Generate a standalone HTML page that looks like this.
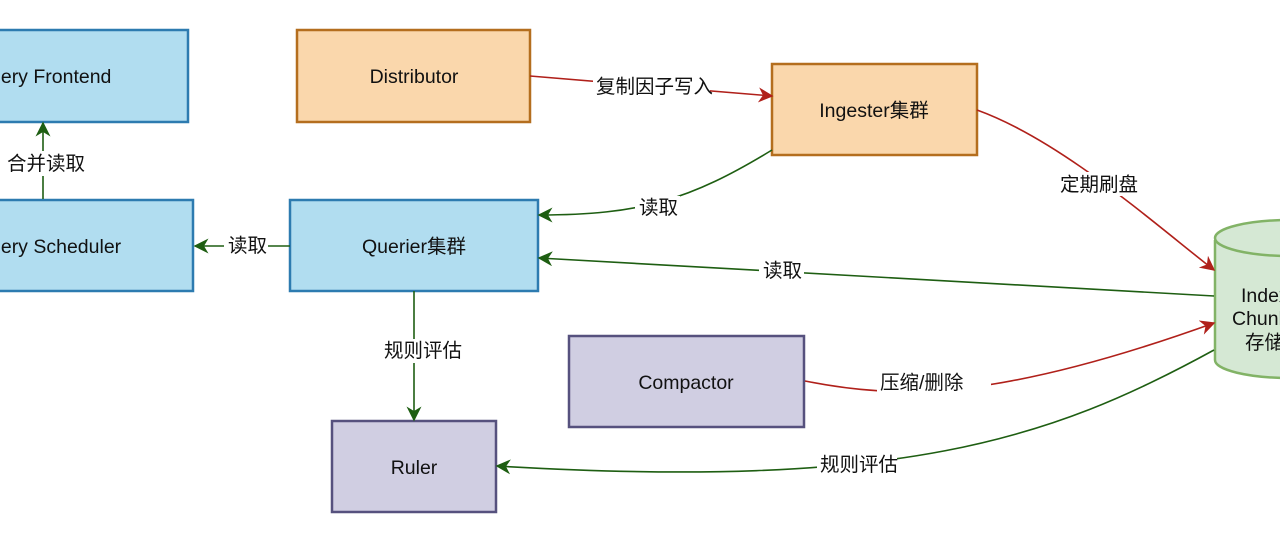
<!DOCTYPE html>
<html><head><meta charset="utf-8"><style>
html,body{margin:0;padding:0;background:#fff;width:1280px;height:545px;overflow:hidden}
svg text{font-family:"Liberation Sans","Noto Sans CJK SC",sans-serif;font-size:19.5px;fill:#111}
</style></head><body>
<svg width="1280" height="545" viewBox="0 0 1280 545" xmlns="http://www.w3.org/2000/svg">
<defs>
<marker id="r" viewBox="0 0 10 10" refX="9" refY="5" markerWidth="15" markerHeight="15" orient="auto" markerUnits="userSpaceOnUse"><path d="M0,0 L10,5 L0,10 L3,5z" fill="#b0201a"/></marker>
<marker id="g2" viewBox="0 0 10 10" refX="9" refY="5" markerWidth="15" markerHeight="15" orient="auto" markerUnits="userSpaceOnUse"><path d="M0,0 L10,5 L0,10 L3,5z" fill="#1e5e12"/></marker>
</defs>
<g stroke-width="2.5">
<rect x="-20" y="30" width="208" height="92" fill="#b1ddf0" stroke="#2d7bb0"/>
<rect x="-20" y="200" width="213" height="91" fill="#b1ddf0" stroke="#2d7bb0"/>
<rect x="297" y="30" width="233" height="92" fill="#fad7ac" stroke="#b46e1e"/>
<rect x="772" y="64" width="205" height="91" fill="#fad7ac" stroke="#b46e1e"/>
<rect x="290" y="200" width="248" height="91" fill="#b1ddf0" stroke="#2d7bb0"/>
<rect x="569" y="336" width="235" height="91" fill="#d0cee2" stroke="#56517e"/>
<rect x="332" y="421" width="164" height="91" fill="#d0cee2" stroke="#56517e"/>
<path d="M1215,240 L1215,360 A75,18 0 0 0 1365,360 L1365,240" fill="#d5e8d4" stroke="#82b366"/>
<ellipse cx="1290" cy="238" rx="75" ry="18" fill="#d5e8d4" stroke="#82b366"/>
</g>
<g fill="none" stroke-width="1.6">
<path d="M43,199 L43,123" stroke="#1e5e12" marker-end="url(#g2)"/>
<path d="M290,246 L195,246" stroke="#1e5e12" marker-end="url(#g2)"/>
<path d="M414,291 L414,420" stroke="#1e5e12" marker-end="url(#g2)"/>
<path d="M530,76 L772,96" stroke="#b0201a" marker-end="url(#r)"/>
<path d="M772,150 C690,200 640,215 539,215" stroke="#1e5e12" marker-end="url(#g2)"/>
<path d="M977,110 C1060,140 1150,220 1214,270" stroke="#b0201a" marker-end="url(#r)"/>
<path d="M1214,296 L539,258" stroke="#1e5e12" marker-end="url(#g2)"/>
<path d="M805,381 C900,400 1000,400 1214,323" stroke="#b0201a" marker-end="url(#r)"/>
<path d="M1214,350 C1050,440 900,490 497,466" stroke="#1e5e12" marker-end="url(#g2)"/>
</g>
<g fill="#fff">
<rect x="4" y="151" width="80" height="25"/>
<rect x="224" y="234" width="44" height="24"/>
<rect x="381" y="339" width="82" height="24"/>
<rect x="593" y="74" width="117" height="25"/>
<rect x="635" y="196" width="45" height="24"/>
<rect x="1057" y="172" width="82" height="24"/>
<rect x="759" y="258" width="45" height="24"/>
<rect x="877" y="370" width="114" height="24"/>
<rect x="817" y="453" width="80" height="24"/>
</g>
<text x="-10" y="83">uery Frontend</text>
<text x="-10" y="253">uery Scheduler</text>
<text x="414" y="83" text-anchor="middle">Distributor</text>
<text x="874" y="117" text-anchor="middle">Ingester集群</text>
<text x="414" y="253" text-anchor="middle">Querier集群</text>
<text x="686" y="389" text-anchor="middle">Compactor</text>
<text x="414" y="474" text-anchor="middle">Ruler</text>
<text x="1241" y="302">Index</text>
<text x="1232" y="325">Chunk</text>
<text x="1245" y="349">存储</text>
<g style="font-size:16.5px">
<text x="7" y="170">合并读取</text>
<text x="228" y="252">读取</text>
<text x="384" y="357">规则评估</text>
<text x="596" y="93">复制因子写入</text>
<text x="639" y="214">读取</text>
<text x="1060" y="191">定期刷盘</text>
<text x="763" y="277">读取</text>
<text x="880" y="389">压缩/删除</text>
<text x="820" y="471">规则评估</text>
</g>
</svg>
</body></html>
